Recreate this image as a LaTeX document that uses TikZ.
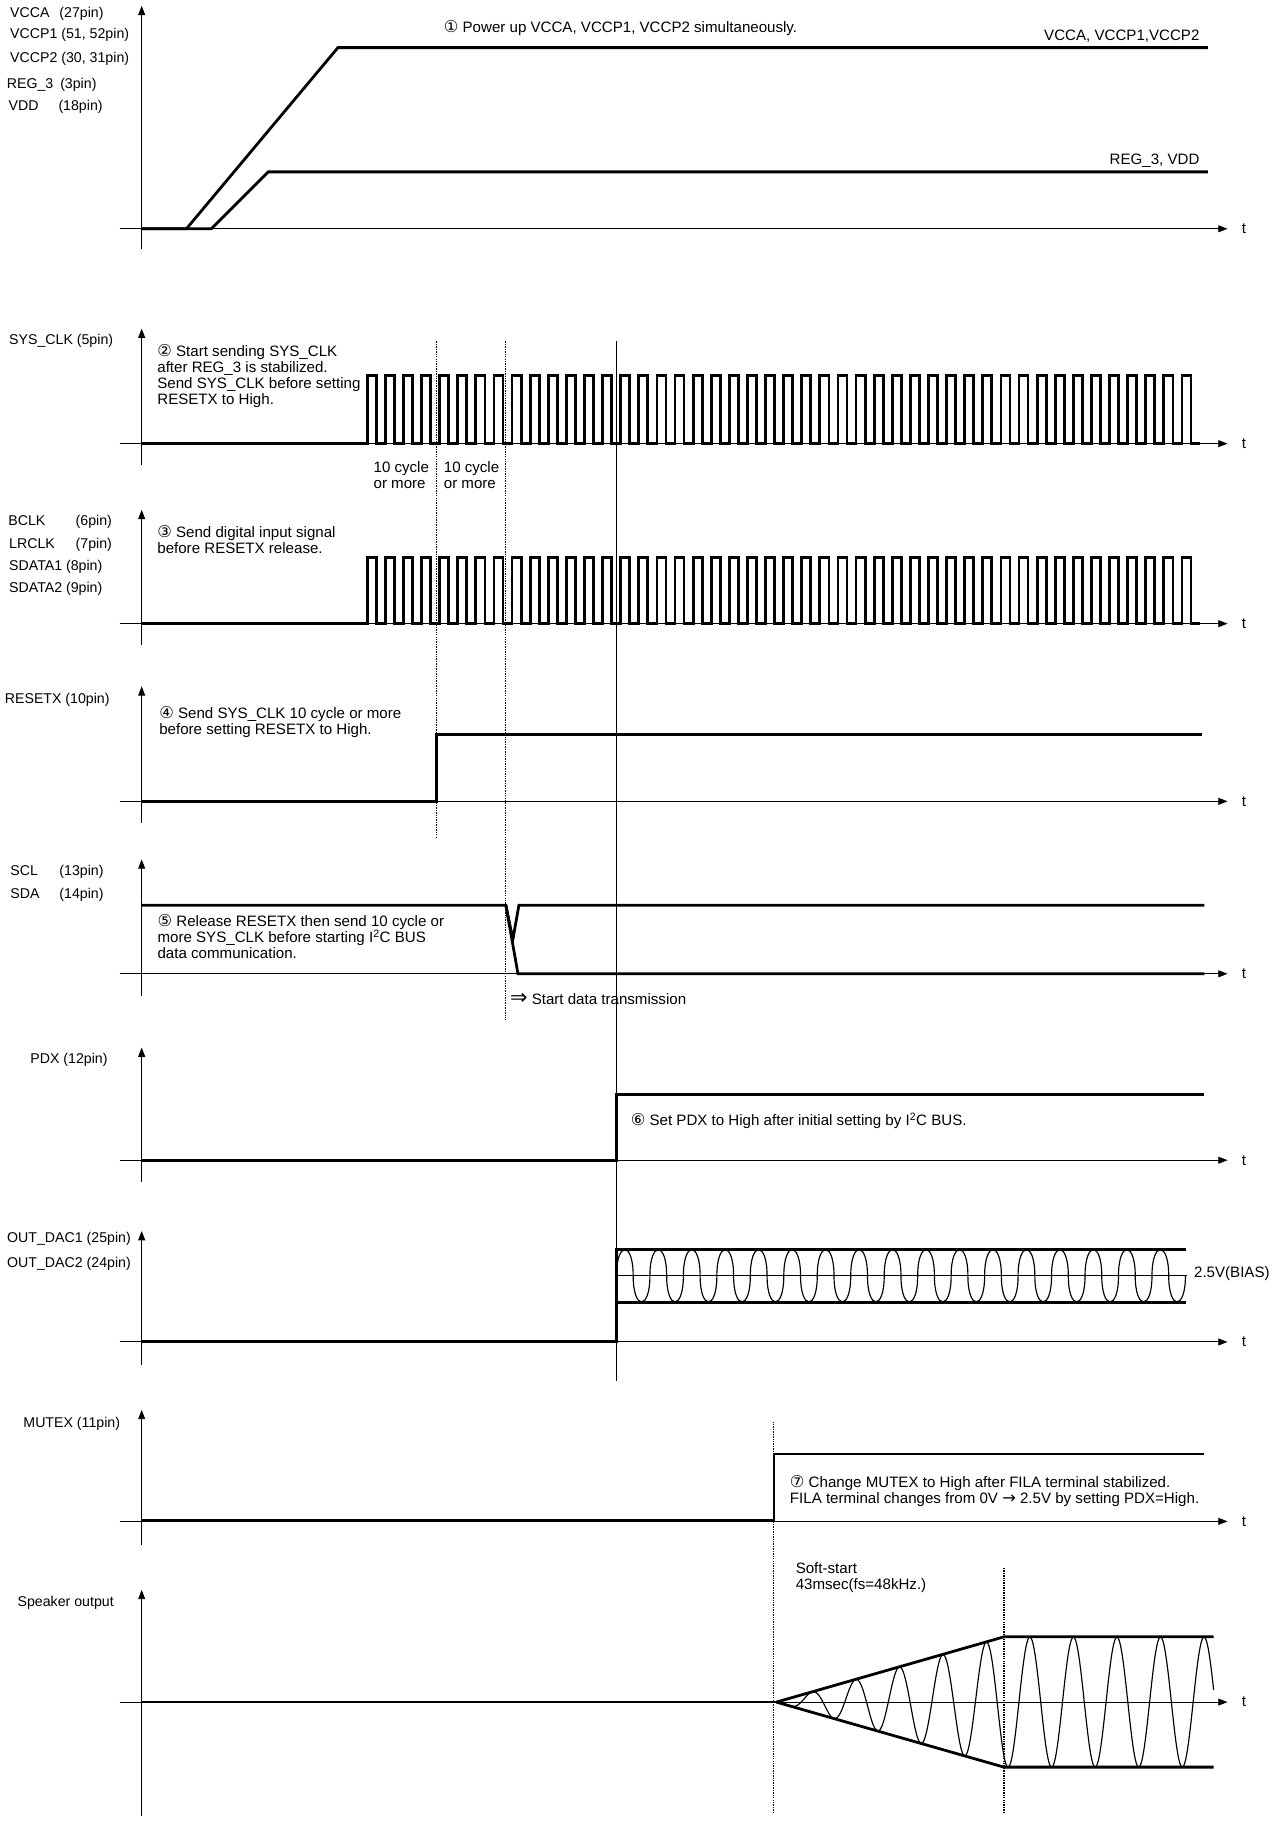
\documentclass[tikz,border=0pt]{standalone}
\usepackage{fontspec}
\setmainfont{Liberation Sans}
\newfontfamily\symfont{DejaVu Sans}
\usetikzlibrary{arrows.meta}
\newcommand{\cn}[1]{{\symfont\fontsize{14}{14}\selectfont #1}}
\tikzset{
  sig/.style={line width=2.4pt},
  axis/.style={line width=0.8pt, -{Triangle[length=8pt,width=6pt]}},
  guide/.style={line width=1pt, dash pattern=on 1.2pt off 0.9pt},
  wave/.style={line width=1pt},
  lbl/.style={anchor=west, inner sep=0pt, align=left, font=\fontsize{13}{13.8}\selectfont},
  pin/.style={lbl, font=\fontsize{12.2}{13.8}\selectfont},
}
\begin{document}
\begin{tikzpicture}[x=1pt, y=-1pt]
\useasboundingbox (0,0) rectangle (1101,1568);
% axes of the nine traces
\foreach \b/\t/\e [count=\i] in {197/5/214, 382/283/400, 537/439/555, 690/591/709, 838.5/740/858, 999/902/1018, 1155.5/1060/1175, 1310/1214/1330, 1465.6/1369/1564} {
  \draw[axis] (122,\e) -- (122,\t);
  \draw[axis] (103,\b) -- (1057,\b) node[lbl, right=12pt] (t\i) {t};
}
% guide lines
\draw[guide] (376,294) -- (376,721);
\draw[guide] (435.5,294) -- (435.5,878);
\draw[line width=0.7pt] (530.8,294) -- (530.8,1189);
\draw[guide] (666,1224) -- (666,1562);
\draw[guide] (864.5,1350) -- (864.5,1562);

% (1) power supplies
\node[pin] (vcca) at (8.6,12) {\makebox[42.4pt][l]{VCCA}(27pin)};
\node[pin] (vccp1) at (8.6,30) {VCCP1 (51, 52pin)};
\node[pin] (vccp2) at (8.6,51) {VCCP2 (30, 31pin)};
\node[pin] (reg) at (5.7,73) {\makebox[46pt][l]{REG\_3}(3pin)};
\node[pin] (vdd) at (7.2,92) {\makebox[43pt][l]{VDD}(18pin)};
\draw[sig] (122,197) -- (160.5,197) -- (291,41) -- (1040,41);
\draw[sig] (122,197) -- (182,197) -- (231,148) -- (1040,148);
\node[lbl] (note1) at (382,24) {\cn{①} Power up VCCA, VCCP1, VCCP2 simultaneously.};
\node[lbl, anchor=east] (vcclbl) at (1033,31) {VCCA, VCCP1,VCCP2};
\node[lbl, anchor=east] (reglbl) at (1033,138) {REG\_3, VDD};

% (2) SYS_CLK
\node[pin] (sysclk) at (7.7,293.3) {SYS\_CLK (5pin)};
\draw[sig] (122,382) -- (316.2,382)
  \foreach \k in {0,...,45} { -- ++(0,-58.8) -- ++(7.8,0) -- ++(0,58.8) -- ++(7.79,0) };
\node[lbl] (note2) at (135.3,323.8) {\cn{②} Start sending SYS\_CLK\\after REG\_3 is stabilized.\\Send SYS\_CLK before setting\\RESETX to High.};
\node[lbl] (cyc1) at (321.5,409) {10 cycle\\or more};
\node[lbl] (cyc2) at (382,409) {10 cycle\\or more};

% (3) digital inputs
\node[pin] (bclk) at (7,449) {\makebox[58pt][l]{BCLK}(6pin)};
\node[pin] (lrclk) at (7.7,469) {\makebox[57.3pt][l]{LRCLK}(7pin)};
\node[pin] (sdata1) at (7.7,488) {SDATA1 (8pin)};
\node[pin] (sdata2) at (7.7,507.3) {SDATA2 (9pin)};
\draw[sig] (122,537) -- (316.2,537)
  \foreach \k in {0,...,45} { -- ++(0,-57.2) -- ++(7.8,0) -- ++(0,57.2) -- ++(7.79,0) };
\node[lbl] (note3) at (135.3,465) {\cn{③} Send digital input signal\\before RESETX release.};

% (4) RESETX
\node[pin] (resetx) at (4,603) {RESETX (10pin)};
\draw[sig] (122,690) -- (376,690) -- (376,632.5) -- (1035,632.5);
\node[lbl] (note4) at (137,621.8) {\cn{④} Send SYS\_CLK 10 cycle or more\\before setting RESETX to High.};

% (5) SCL / SDA
\node[pin] (scl) at (8.8,751) {\makebox[42.2pt][l]{SCL}(13pin)};
\node[pin] (sda) at (8.8,770.4) {\makebox[42.2pt][l]{SDA}(14pin)};
\draw[sig] (122,779.5) -- (435.6,779.5) -- (446,838.5) -- (1037,838.5);
\draw[sig] (435.6,779.5) -- (441.6,809) -- (446.8,779.5) -- (1037,779.5);
\node[lbl] (note5) at (135.5,806.6) {\cn{⑤} Release RESETX then send 10 cycle or\\more SYS\_CLK before starting I\textsuperscript{2}C BUS\\data communication.};
\node[lbl] (start) at (439,860) {{\symfont\fontsize{18}{18}\selectfont ⇒} Start data transmission};

% (6) PDX
\node[pin] (pdx) at (26,913) {PDX (12pin)};
\draw[sig] (122,999) -- (530.8,999) -- (530.8,942.6) -- (1037,942.6);
\node[lbl] (note6) at (543,965) {\cn{⑥} Set PDX to High after initial setting by I\textsuperscript{2}C BUS.};

% (7) OUT_DAC
\node[pin] (dac1) at (6,1067) {OUT\_DAC1 (25pin)};
\node[pin] (dac2) at (6,1088) {OUT\_DAC2 (24pin)};
\draw[sig] (122,1155) -- (530.8,1155) -- (530.8,1076) -- (1021,1076);
\draw[sig] (530.8,1121.4) -- (1021,1121.4);
\draw[line width=0.6pt] (530.8,1098.5) -- (1022,1098.5);
\draw[wave] (530.8,1098.5)
  \foreach \k in {0,...,16} { .. controls +(0,-30) and +(0,-30) .. ++(14.41,0) .. controls +(0,30) and +(0,30) .. ++(14.41,0) };
\node[lbl] (bias) at (1028,1097) {2.5V(BIAS)};

% MUTEX
\node[pin] (mutex) at (20,1226) {MUTEX (11pin)};
\draw[sig] (122,1309.5) -- (666.5,1309.5) -- (666.5,1252) -- (1037,1252);
\node[lbl] (note7) at (680,1284) {\cn{⑦} Change MUTEX to High after FILA terminal stabilized.\\FILA terminal changes from 0V \cn{→} 2.5V by setting PDX=High.};

% speaker output
\node[pin] (spk) at (15,1380) {Speaker output};
\draw[sig] (122,1465.6) -- (668.5,1465.6);
\draw[sig] (668.5,1465.6) -- (864.5,1409.4) -- (1045,1409.4);
\draw[sig] (668.5,1465.6) -- (864.5,1521.6) -- (1045,1521.6);
\draw[wave] plot[domain=668.5:1045, samples=500] (\x, {1465.6 + min((\x-668.5)/196,1)*56*cos((\x-868)/37.5*360)});
\node[lbl] (soft) at (685,1358) {Soft-start\\43msec(fs=48kHz.)};
\end{tikzpicture}
\end{document}
